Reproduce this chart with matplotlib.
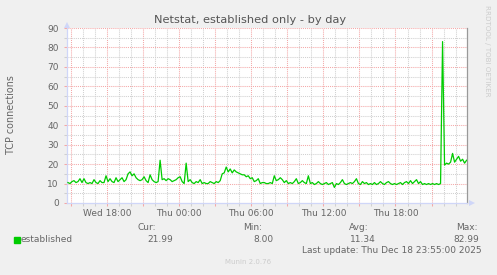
import numpy as np
import matplotlib
matplotlib.use('Agg')
import matplotlib.pyplot as plt
from matplotlib.ticker import FixedLocator, MultipleLocator

W, H = 497, 275

# samples every 10 minutes, first one at Wed 14:45 (hours counted from Wed 00:00)
start_hour = 14.75
step_hours = 10 / 60
established = [
    10.5, 10, 11, 11.5, 10.5, 11, 12.5, 10.5, 12.5, 10.5,
    10, 10.5, 10, 12, 10.5, 10, 11.5, 10.5, 10.5, 14,
    11, 12.5, 11, 10.5, 13, 11, 12, 13, 11, 12,
    15, 16, 14, 15, 13, 12, 11.5, 12, 13.5, 11.5,
    10.5, 14.5, 12, 11, 10.5, 11, 22, 12, 12.5, 11.5,
    12.5, 12, 11, 11.5, 12, 13, 13.5, 11, 10, 20.5,
    11, 12, 10.5, 10, 11, 10.5, 12, 10, 10.5, 10,
    10, 11, 10.5, 10, 11, 10.5, 11.5, 15, 15.5, 18.5,
    16, 17.5, 15.5, 17, 16, 15.5, 15, 14.5, 14.5, 13.5,
    14, 12.5, 13, 11, 11.5, 12.5, 10, 10.5, 10.5, 10,
    10, 10.5, 10, 14, 11.5, 12, 13, 12, 10.5, 11.5,
    10, 10.5, 10, 11, 12.5, 10, 10.5, 11.5, 10.5, 10,
    14, 10, 10.5, 9.5, 10, 11, 10, 9.5, 10, 10.5,
    9.5, 10, 10.5, 8, 10, 9.5, 10.5, 12, 10, 9.5,
    10, 10.5, 10, 11, 12.5, 10, 9.5, 11, 10, 10.5,
    9.5, 10, 9.5, 10.5, 9.5, 10, 11, 10, 9.5, 10.5,
    11, 10, 9.5, 10, 9.5, 10, 10.5, 9.5, 10.5, 11,
    10, 11.5, 10, 11, 12, 10, 11, 9.5, 10, 9.5,
    10, 9.5, 10, 9.5, 10, 9.5, 10, 83, 19.5, 20.5,
    20, 21, 25.5, 21, 22.5, 24, 21.5, 22.5, 20.5, 22,
]
hours = start_hour + step_hours * np.arange(len(established))

tick_hours = [15, 18, 21, 24, 27, 30, 33, 36, 39, 42, 45]
tick_labels = ['', 'Wed 18:00', '', 'Thu 00:00', '', 'Thu 06:00', '', 'Thu 12:00', '', 'Thu 18:00', '']

stat_names = ['Cur:', 'Min:', 'Avg:', 'Max:']
stat_values = ['21.99', '8.00', '11.34', '82.99']

txt = '#666666'
major_c = '#F4A8A8'
minor_c = '#D0D0D0'
axis_c = '#CFD6F8'

def fx(px):
    return px / W

def fy(py):
    return 1 - py / H

fig = plt.figure(figsize=(W / 100, H / 100), dpi=100, facecolor='#F0F0F0')
ax = fig.add_axes([fx(67), fy(203), fx(467) - fx(67), fy(28) - fy(203)])
ax.set_facecolor('white')

ax.plot(hours, established, color='#00CC00', lw=0.9, zorder=3)

ax.set_xlim(14.67, 47.95)
ax.set_ylim(0, 90)

ax.xaxis.set_major_locator(FixedLocator(tick_hours))
ax.set_xticklabels(tick_labels)
ax.xaxis.set_minor_locator(MultipleLocator(1))
ax.yaxis.set_major_locator(MultipleLocator(10))
ax.yaxis.set_minor_locator(MultipleLocator(5))

dots = (0, (1, 1))
ax.grid(which='major', color=major_c, lw=0.75, linestyle=dots, zorder=1)
ax.grid(which='minor', color=minor_c, lw=0.75, linestyle=dots, zorder=0)

ax.tick_params(which='major', length=2.5, width=0.75, color=major_c,
               labelsize=6.5, labelcolor=txt)
ax.tick_params(which='minor', length=2, width=0.75, color=minor_c)
ax.tick_params(axis='y', which='major', pad=3.5)
ax.tick_params(axis='x', which='major', pad=1.5)

ax.spines['top'].set_visible(False)
ax.spines['left'].set_color(axis_c)
ax.spines['bottom'].set_color(axis_c)
ax.spines['right'].set_color('#999999')
for s in ax.spines.values():
    s.set_linewidth(0.9)
ax.set_axisbelow(True)

# small arrows just past the axis ends
ax.plot([0], [1.02], marker='^', ms=4, color=axis_c, transform=ax.transAxes,
        clip_on=False, zorder=5, markeredgewidth=0)
ax.plot([1.012], [0], marker='>', ms=4, color=axis_c, transform=ax.transAxes,
        clip_on=False, zorder=5, markeredgewidth=0)

fig.text(fx(250), fy(20), 'Netstat, established only - by day', ha='center', va='center',
         fontsize=8.2, color='#555555')
fig.text(fx(11), fy(114.5), 'TCP connections', rotation=90, ha='center', va='center',
         fontsize=6.9, color=txt)
fig.text(fx(487), fy(51), 'RRDTOOL / TOBI OETIKER', rotation=270, ha='center', va='center',
         fontsize=5.1, color='#CCCCCC')

name_x = [137, 243, 349, 456]
value_x = [147, 253, 350, 453]
for name, value, nx, vx in zip(stat_names, stat_values, name_x, value_x):
    fig.text(fx(nx), fy(227), name, ha='left', va='center', fontsize=6.5, color=txt)
    fig.text(fx(vx), fy(239), value, ha='left', va='center', fontsize=6.5, color=txt)

fig.patches.append(plt.Rectangle((fx(14), fy(242.5)), fx(5.5), fy(236.5) - fy(242.5),
                                 transform=fig.transFigure, color='#00CC00'))
fig.text(fx(20.5), fy(239), 'established', ha='left', va='center', fontsize=6.5, color=txt)
fig.text(fx(302), fy(250.5), 'Last update: Thu Dec 18 23:55:00 2025', ha='left', va='center',
         fontsize=6.5, color=txt)
fig.text(fx(248), fy(262.5), 'Munin 2.0.76', ha='center', va='center', fontsize=5, color='#CCCCCC')

fig.savefig('out.png', dpi=100, facecolor=fig.get_facecolor())
